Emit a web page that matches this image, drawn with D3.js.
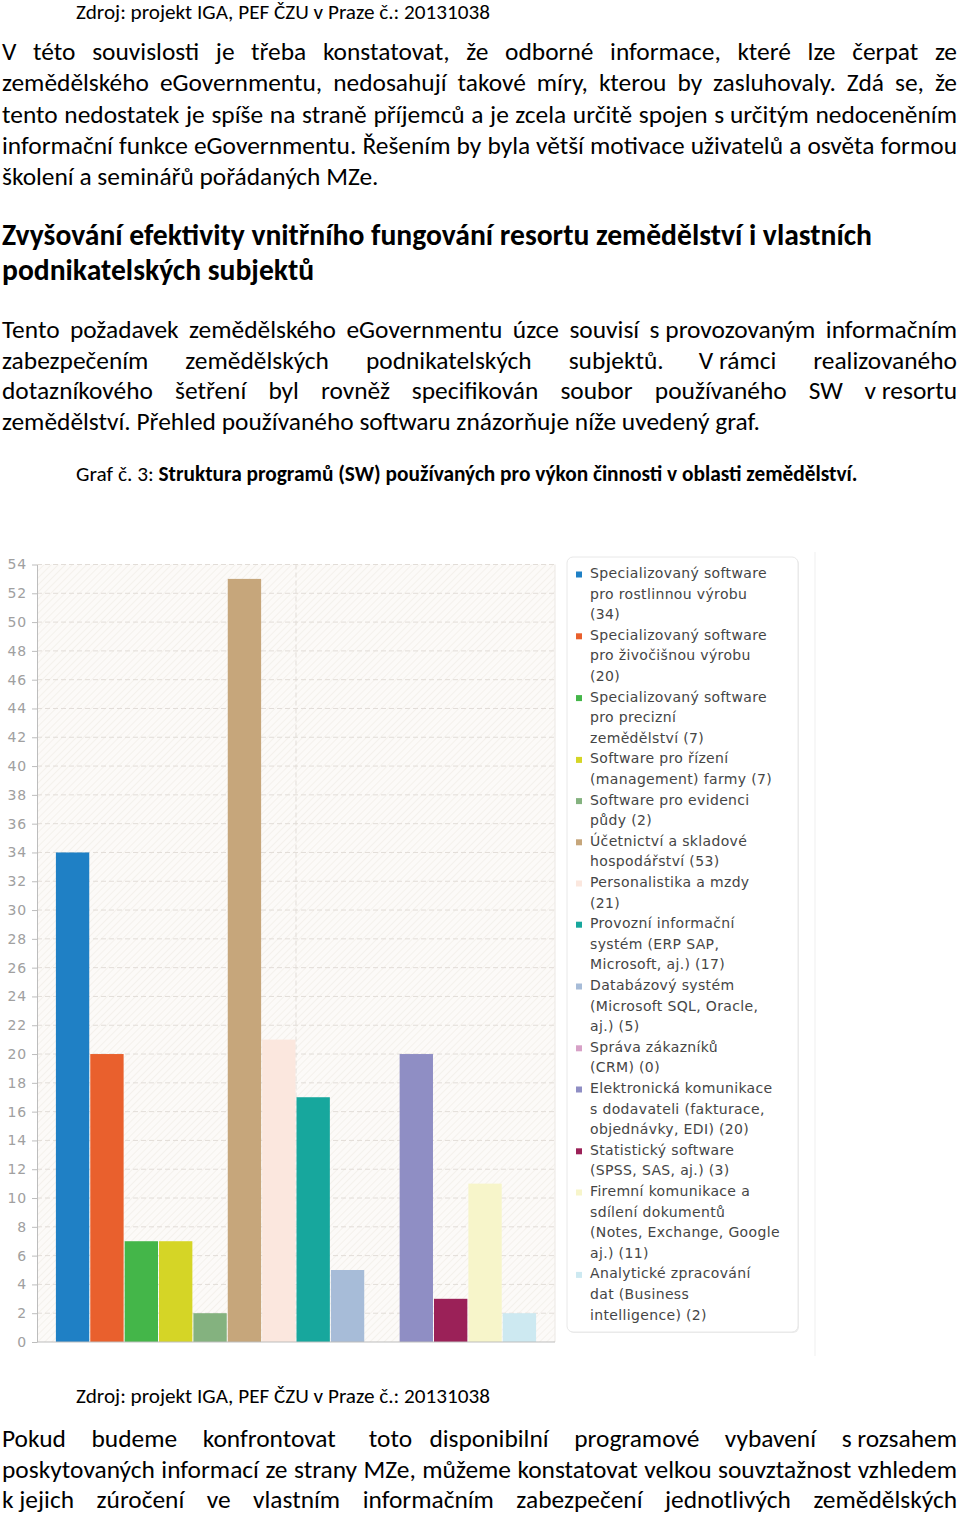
<!DOCTYPE html>
<html><head><meta charset="utf-8">
<script src="https://cdn.jsdelivr.net/npm/d3@7"></script>
<style>
html,body{margin:0;padding:0;background:#fff;}
svg{display:block;}
</style></head><body>
<svg id="page" width="960" height="1515"></svg>
<script>
// ---------------- DATA ----------------
const legendLabels = [
  "Specializovaný software|pro rostlinnou výrobu|",
  "Specializovaný software|pro živočišnou výrobu|",
  "Specializovaný software|pro precizní|zemědělství",
  "Software pro řízení|(management) farmy",
  "Software pro evidenci|půdy",
  "Účetnictví a skladové|hospodářství",
  "Personalistika a mzdy|",
  "Provozní informační|systém (ERP SAP,|Microsoft, aj.)",
  "Databázový systém|(Microsoft SQL, Oracle,|aj.)",
  "Správa zákazníků|(CRM)",
  "Elektronická komunikace|s dodavateli (fakturace,|objednávky, EDI)",
  "Statistický software|(SPSS, SAS, aj.)",
  "Firemní komunikace a|sdílení dokumentů|(Notes, Exchange, Google|aj.)",
  "Analytické zpracování|dat (Business|intelligence)"
];
const categories = legendLabels.map(l => l.replace(/\|/g, " ").trim());
const values = [34, 20, 7, 7, 2, 53, 21, 17, 5, 0, 20, 3, 11, 2];
const colors = ["#1f80c5", "#e9602d", "#44b649", "#d5d526", "#84b27f", "#c6a67b", "#fbe7de",
                "#17a79d", "#a7bcd8", "#d7a1c7", "#8f8ec4", "#9b2158", "#f7f5ca", "#cde9f1"];
const yTicks = [0, 2, 4, 6, 8, 10, 12, 14, 16, 18, 20, 22, 24, 26, 28, 30, 32, 34, 36, 38, 40, 42, 44, 46, 48, 50, 52, 54];

const sourceText = "Zdroj: projekt IGA, PEF ČZU v Praze č.: 20131038";
const para1 = [
  "V této souvislosti je třeba konstatovat, že odborné informace, které lze čerpat ze",
  "zemědělského eGovernmentu, nedosahují takové míry, kterou by zasluhovaly. Zdá se, že",
  "tento nedostatek je spíše na straně příjemců a je zcela určitě spojen s\u00A0určitým nedoceněním",
  "informační funkce eGovernmentu. Řešením by byla větší motivace uživatelů a osvěta formou",
  "školení a seminářů pořádaných MZe."
];
const heading = [
  "Zvyšování efektivity vnitřního fungování resortu zemědělství i vlastních",
  "podnikatelských subjektů"
];
const para2 = [
  "Tento požadavek zemědělského eGovernmentu úzce souvisí s\u00A0provozovaným informačním",
  "zabezpečením zemědělských podnikatelských subjektů. V\u00A0rámci realizovaného",
  "dotazníkového šetření byl rovněž specifikován soubor používaného SW v\u00A0resortu",
  "zemědělství. Přehled používaného softwaru znázorňuje níže uvedený graf."
];
const captionLead = "Graf č. 3: ";
const captionBold = "Struktura programů (SW) používaných pro výkon činnosti v oblasti zemědělství.";
const para3 = [
  "Pokud budeme konfrontovat toto disponibilní programové vybavení s\u00A0rozsahem",
  "poskytovaných informací ze strany MZe, můžeme konstatovat velkou souvztažnost vzhledem",
  "k\u00A0jejich zúročení ve vlastním informačním zabezpečení jednotlivých zemědělských"
];

// ---------------- TEXT ----------------
const svg = d3.select("#page");
const BODY_FONT = "Carlito, Calibri, Lato, 'Open Sans', sans-serif";
const CHART_FONT = "'DejaVu Sans', Verdana, sans-serif";

function measure(str, weight) {
  const t = svg.append("text").attr("font-family", BODY_FONT).attr("font-size", 100)
    .attr("font-weight", weight).text(str);
  const w = t.node().getComputedTextLength();
  t.remove();
  return w;
}
function textLine(str, x0, x1, y, size, weight, justify) {
  const t = svg.append("text").attr("font-family", BODY_FONT).attr("font-size", size)
    .attr("font-weight", weight).attr("y", y).attr("fill", "#000");
  if (!justify) { t.attr("x", x0).text(str); return t; }
  const words = str.split(" ");
  const spans = words.map(w => t.append("tspan").text(w));
  const widths = spans.map(s => s.node().getComputedTextLength());
  const gap = (x1 - x0 - d3.sum(widths)) / (words.length - 1);
  let x = x0;
  spans.forEach((s, i) => { s.attr("x", x); x += widths[i] + gap; });
  return t;
}

const bodySize = (100 * 760 / measure(para2[3], 400) + 100 * 376 / measure(para1[4], 400)) / 2;
const headSize = 100 * 870 / measure(heading[0], 700);
const srcSize = 100 * 414 / measure(sourceText, 400);
const capSize = 100 * 777 / (measure(captionLead, 400) + measure(captionBold, 700));

textLine(sourceText, 76, 0, 19, srcSize, 400, false);
para1.forEach((l, i) => textLine(l, 2, 957, 60 + i * 31.3, bodySize, 400, i < para1.length - 1));
heading.forEach((l, i) => textLine(l, 2, 957, 245 + i * 35, headSize, 700, false));
para2.forEach((l, i) => textLine(l, 2, 957, 338 + i * 30.7, bodySize, 400, i < para2.length - 1));
{
  const t = svg.append("text").attr("font-family", BODY_FONT).attr("font-size", capSize)
    .attr("x", 76).attr("y", 481).attr("fill", "#000");
  t.append("tspan").text(captionLead);
  t.append("tspan").attr("font-weight", 700).text(captionBold);
}
textLine(sourceText, 76, 0, 1403, srcSize, 400, false);
para3.forEach((l, i) => textLine(l, 2, 957, 1447 + i * 30.5, bodySize, 400, true));

// ---------------- CHART ----------------
const plotL = 37, plotR = 555;
const x = d3.scaleBand().domain(categories).range([plotL, plotR]).paddingInner(0.03).paddingOuter(0.55);
const y = d3.scaleLinear().domain([0, 54]).range([1342, 564.5]);

const defs = svg.append("defs");
const pat = defs.append("pattern").attr("id", "hatch").attr("width", 5).attr("height", 5)
  .attr("patternUnits", "userSpaceOnUse").attr("patternTransform", "rotate(45)");
pat.append("rect").attr("width", 5).attr("height", 5).attr("fill", "#fcfaf8");
pat.append("line").attr("x1", 0).attr("y1", 0).attr("x2", 0).attr("y2", 5)
  .attr("stroke", "#f2eee9").attr("stroke-width", 1.5);

// outer frame line at right
svg.append("line").attr("x1", 815).attr("x2", 815).attr("y1", 552).attr("y2", 1356)
  .attr("stroke", "#efefef");

const chart = svg.append("g");
chart.append("rect").attr("x", plotL).attr("y", y(54)).attr("width", plotR - plotL)
  .attr("height", y(0) - y(54)).attr("fill", "url(#hatch)");

// grid
chart.append("g").selectAll("line").data(yTicks.filter(v => v > 0)).join("line")
  .attr("x1", plotL).attr("x2", plotR).attr("y1", d => y(d)).attr("y2", d => y(d))
  .attr("stroke", "#e2ddd8").attr("stroke-dasharray", "5,3");
chart.append("line").attr("x1", (plotL + plotR) / 2).attr("x2", (plotL + plotR) / 2)
  .attr("y1", y(54)).attr("y2", y(0)).attr("stroke", "#e2ddd8").attr("stroke-dasharray", "5,3");
chart.append("line").attr("x1", plotR).attr("x2", plotR).attr("y1", y(54)).attr("y2", y(0))
  .attr("stroke", "#ece8e4");

// bars
chart.append("g").selectAll("rect").data(values).join("rect")
  .attr("x", (d, i) => x(categories[i])).attr("width", x.bandwidth())
  .attr("y", d => y(d)).attr("height", d => y(0) - y(d))
  .attr("fill", (d, i) => colors[i]);

// axes
const yAxis = chart.append("g").attr("transform", `translate(${plotL},0)`)
  .call(d3.axisLeft(y).tickValues(yTicks).tickSize(5).tickSizeOuter(0).tickPadding(5));
yAxis.select(".domain").attr("stroke", "#bdbdbd");
yAxis.selectAll(".tick line").attr("stroke", "#bdbdbd");
yAxis.selectAll(".tick text").attr("fill", "#a0a0a0").attr("font-family", CHART_FONT)
  .attr("font-size", 14).attr("letter-spacing", 0.8);
chart.append("line").attr("x1", plotL).attr("x2", plotR).attr("y1", y(0)).attr("y2", y(0))
  .attr("stroke", "#bdbdbd");

// legend
const lg = svg.append("g");
lg.append("rect").attr("x", 568).attr("y", 558).attr("width", 231).attr("height", 775)
  .attr("rx", 6).attr("fill", "#ececec");
lg.append("rect").attr("x", 567).attr("y", 557).attr("width", 231).attr("height", 775)
  .attr("rx", 6).attr("fill", "#fff").attr("stroke", "#e8e8e8");
let lineIdx = 0;
const LH = 20.6, base0 = 578;
legendLabels.forEach((lab, i) => {
  const lines = lab.split("|");
  const last = lines.pop();
  lines.push(last ? `${last} (${values[i]})` : `(${values[i]})`);
  const by = base0 + lineIdx * LH;
  lg.append("rect").attr("x", 576).attr("y", by - 6.5).attr("width", 6).attr("height", 6)
    .attr("fill", colors[i]);
  const t = lg.append("text").attr("font-family", CHART_FONT).attr("font-size", 14)
    .attr("letter-spacing", 0.35).attr("fill", "#454545");
  lines.forEach((ln, j) => t.append("tspan").attr("x", 590).attr("y", by + j * LH).text(ln));
  lineIdx += lines.length;
});
</script>
</body></html>
